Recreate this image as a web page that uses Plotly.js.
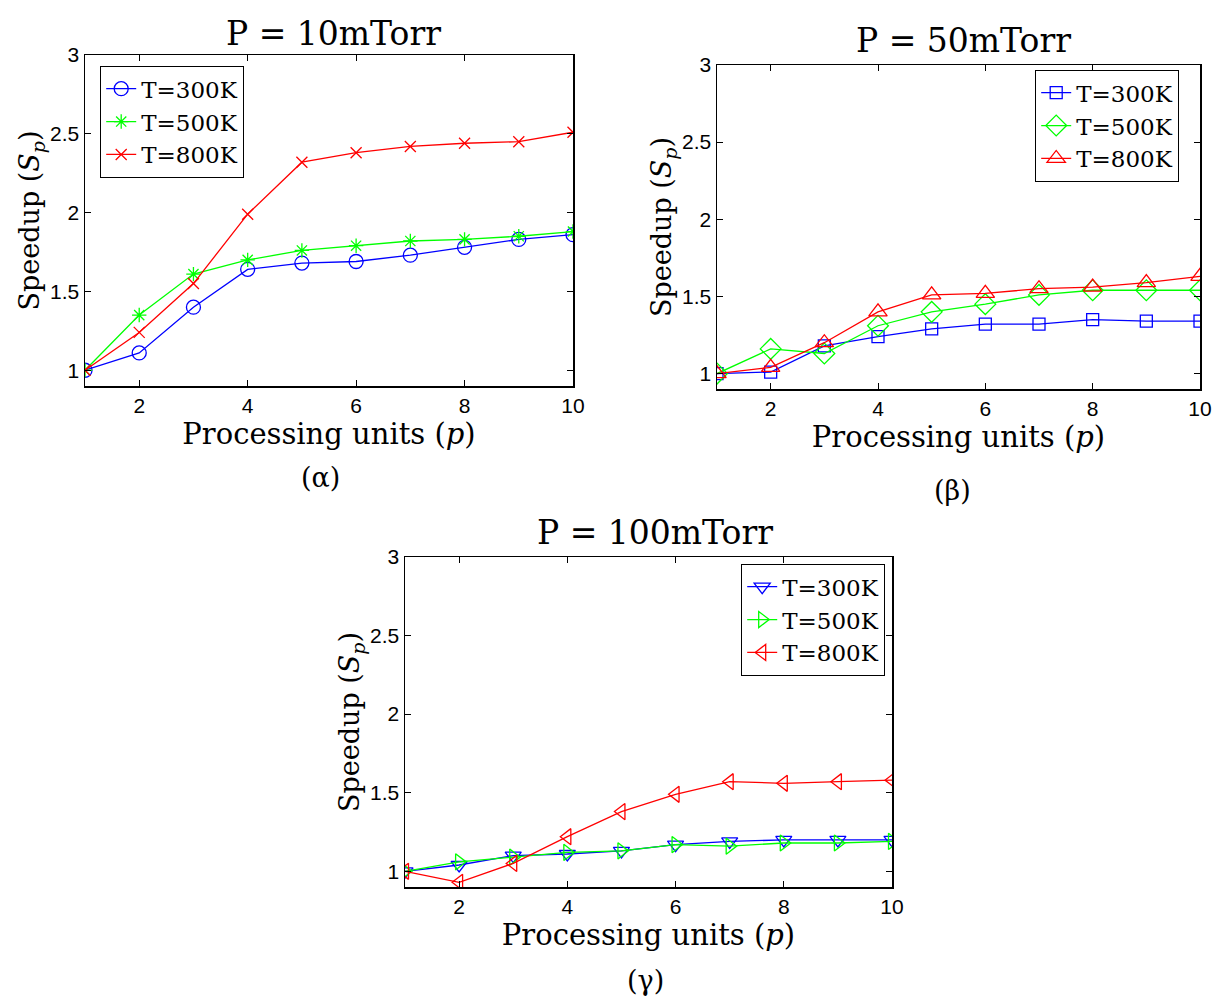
<!DOCTYPE html>
<html>
<head>
<meta charset="utf-8">
<script src="https://cdn.plot.ly/plotly-3.0.1.min.js"></script>
<style>html,body{margin:0;padding:0;background:#fff;}#chart{width:1213px;height:1000px;}</style>
</head>
<body>
<div id="chart"></div>
<script>
const procUnits = [1, 2, 3, 4, 5, 6, 7, 8, 9, 10];
const seriesNames = ["T=300K", "T=500K", "T=800K"];
const panelTitles = ["P = 10mTorr", "P = 50mTorr", "P = 100mTorr"];
const panelLabels = ["(α)", "(β)", "(γ)"];

// P = 10mTorr
const p10_T300 = [1.00, 1.11, 1.40, 1.64, 1.68, 1.69, 1.73, 1.78, 1.83, 1.86];
const p10_T500 = [1.00, 1.35, 1.61, 1.70, 1.76, 1.79, 1.82, 1.83, 1.85, 1.88];
const p10_T800 = [1.00, 1.24, 1.55, 1.99, 2.32, 2.38, 2.42, 2.44, 2.45, 2.51];
// P = 50mTorr
const p50_T300 = [1.00, 1.01, 1.18, 1.24, 1.29, 1.32, 1.32, 1.35, 1.34, 1.34];
const p50_T500 = [1.00, 1.16, 1.13, 1.31, 1.40, 1.45, 1.51, 1.54, 1.54, 1.54];
const p50_T800 = [1.00, 1.04, 1.20, 1.40, 1.51, 1.52, 1.55, 1.56, 1.59, 1.63];
// P = 100mTorr
const p100_T300 = [1.00, 1.04, 1.10, 1.11, 1.13, 1.17, 1.19, 1.20, 1.20, 1.20];
const p100_T500 = [1.00, 1.06, 1.09, 1.12, 1.13, 1.17, 1.16, 1.18, 1.18, 1.19];
const p100_T800 = [1.00, 0.93, 1.05, 1.22, 1.38, 1.49, 1.57, 1.56, 1.57, 1.58];

const xTicks = [2, 4, 6, 8, 10];
const yTicks = [1, 1.5, 2, 2.5, 3];

const colors = ["#0000ff", "#00ff00", "#ff0000"];
const symbols = [
  ["circle-open", "asterisk-open", "x-thin-open"],
  ["square-open", "diamond-open", "triangle-up-open"],
  ["triangle-down-open", "triangle-right-open", "triangle-left-open"]
];
const sizes = [
  [14, 12, 11],
  [12, 16, 16],
  [14, 14, 14]
];
const panelData = [
  [p10_T300, p10_T500, p10_T800],
  [p50_T300, p50_T500, p50_T800],
  [p100_T300, p100_T500, p100_T800]
];

const serif = "DejaVu Serif, Liberation Serif, serif";
const sans = "Liberation Sans, Arial, sans-serif";

const traces = [];
panelData.forEach((series, pi) => {
  series.forEach((vals, si) => {
    traces.push({
      x: procUnits, y: vals, type: "scatter", mode: "lines+markers",
      name: seriesNames[si],
      xaxis: pi === 0 ? "x" : "x" + (pi + 1),
      yaxis: pi === 0 ? "y" : "y" + (pi + 1),
      legend: pi === 0 ? "legend" : "legend" + (pi + 1),
      line: {color: colors[si], width: 1.3},
      marker: {symbol: symbols[pi][si], size: sizes[pi][si], color: colors[si], line: {color: colors[si], width: 1.3}}
    });
  });
});

const domains = [
  {x: [85/1213, 573/1213], y: [1 - 386/1000, 1 - 55/1000]},
  {x: [717/1213, 1200/1213], y: [1 - 389/1000, 1 - 65/1000]},
  {x: [405/1213, 892/1213], y: [1 - 887/1000, 1 - 557/1000]}
];

function xax(d, anchor) {
  return {
    domain: d, anchor: anchor, range: [1, 10], tickvals: xTicks,
    ticks: "inside", ticklen: 6, tickcolor: "#000", mirror: "ticks",
    showline: true, linecolor: "#000", linewidth: 1.5, showgrid: false, zeroline: false,
    tickfont: {family: sans, size: 21, color: "#000"},
    title: {text: "Processing units (<i>p</i>)", font: {family: serif, size: 29, color: "#000"}, standoff: 0}
  };
}
function yax(d, anchor) {
  return {
    domain: d, anchor: anchor, range: [0.9, 3], tickvals: yTicks,
    ticks: "inside", ticklen: 6, tickcolor: "#000", mirror: "ticks",
    showline: true, linecolor: "#000", linewidth: 1.5, showgrid: false, zeroline: false,
    tickfont: {family: sans, size: 21, color: "#000"},
    title: {text: "Speedup (<i>S<sub>p</sub></i>)", font: {family: serif, size: 27, color: "#000"}, standoff: 2}
  };
}

function leg(x, y) {
  return {
    x: x, y: y, xanchor: "left", yanchor: "top", xref: "paper", yref: "paper",
    bgcolor: "#fff", bordercolor: "#000", borderwidth: 1.2,
    font: {family: serif, size: 23, color: "#000"},
    tracegroupgap: 0, itemwidth: 30
  };
}

const annotations = [];
const titlePos = [[333, 33], [963, 40], [655, 532]];
const labelPos = [[320, 477], [952, 490], [645, 980]];
panelTitles.forEach((t, i) => {
  annotations.push({text: t, x: titlePos[i][0]/1213, y: 1 - titlePos[i][1]/1000, xref: "paper", yref: "paper",
    xanchor: "center", yanchor: "middle", showarrow: false, font: {family: serif, size: 33, color: "#000"}});
  annotations.push({text: panelLabels[i], x: labelPos[i][0]/1213, y: 1 - labelPos[i][1]/1000, xref: "paper", yref: "paper",
    xanchor: "center", yanchor: "middle", showarrow: false, font: {family: serif, size: 27, color: "#000"}});
});

const layout = {
  width: 1213, height: 1000,
  margin: {l: 0, r: 0, t: 0, b: 0},
  paper_bgcolor: "#fff", plot_bgcolor: "#fff",
  showlegend: true,
  xaxis: xax(domains[0].x, "y"), yaxis: yax(domains[0].y, "x"),
  xaxis2: xax(domains[1].x, "y2"), yaxis2: yax(domains[1].y, "x2"),
  xaxis3: xax(domains[2].x, "y3"), yaxis3: yax(domains[2].y, "x3"),
  legend: leg(100/1213, 1 - 66/1000),
  legend2: leg(1035/1213, 1 - 70/1000),
  legend3: leg(741/1213, 1 - 564/1000),
  annotations: annotations
};

Plotly.newPlot("chart", traces, layout, {displayModeBar: false, staticPlot: true});
</script>
</body>
</html>
